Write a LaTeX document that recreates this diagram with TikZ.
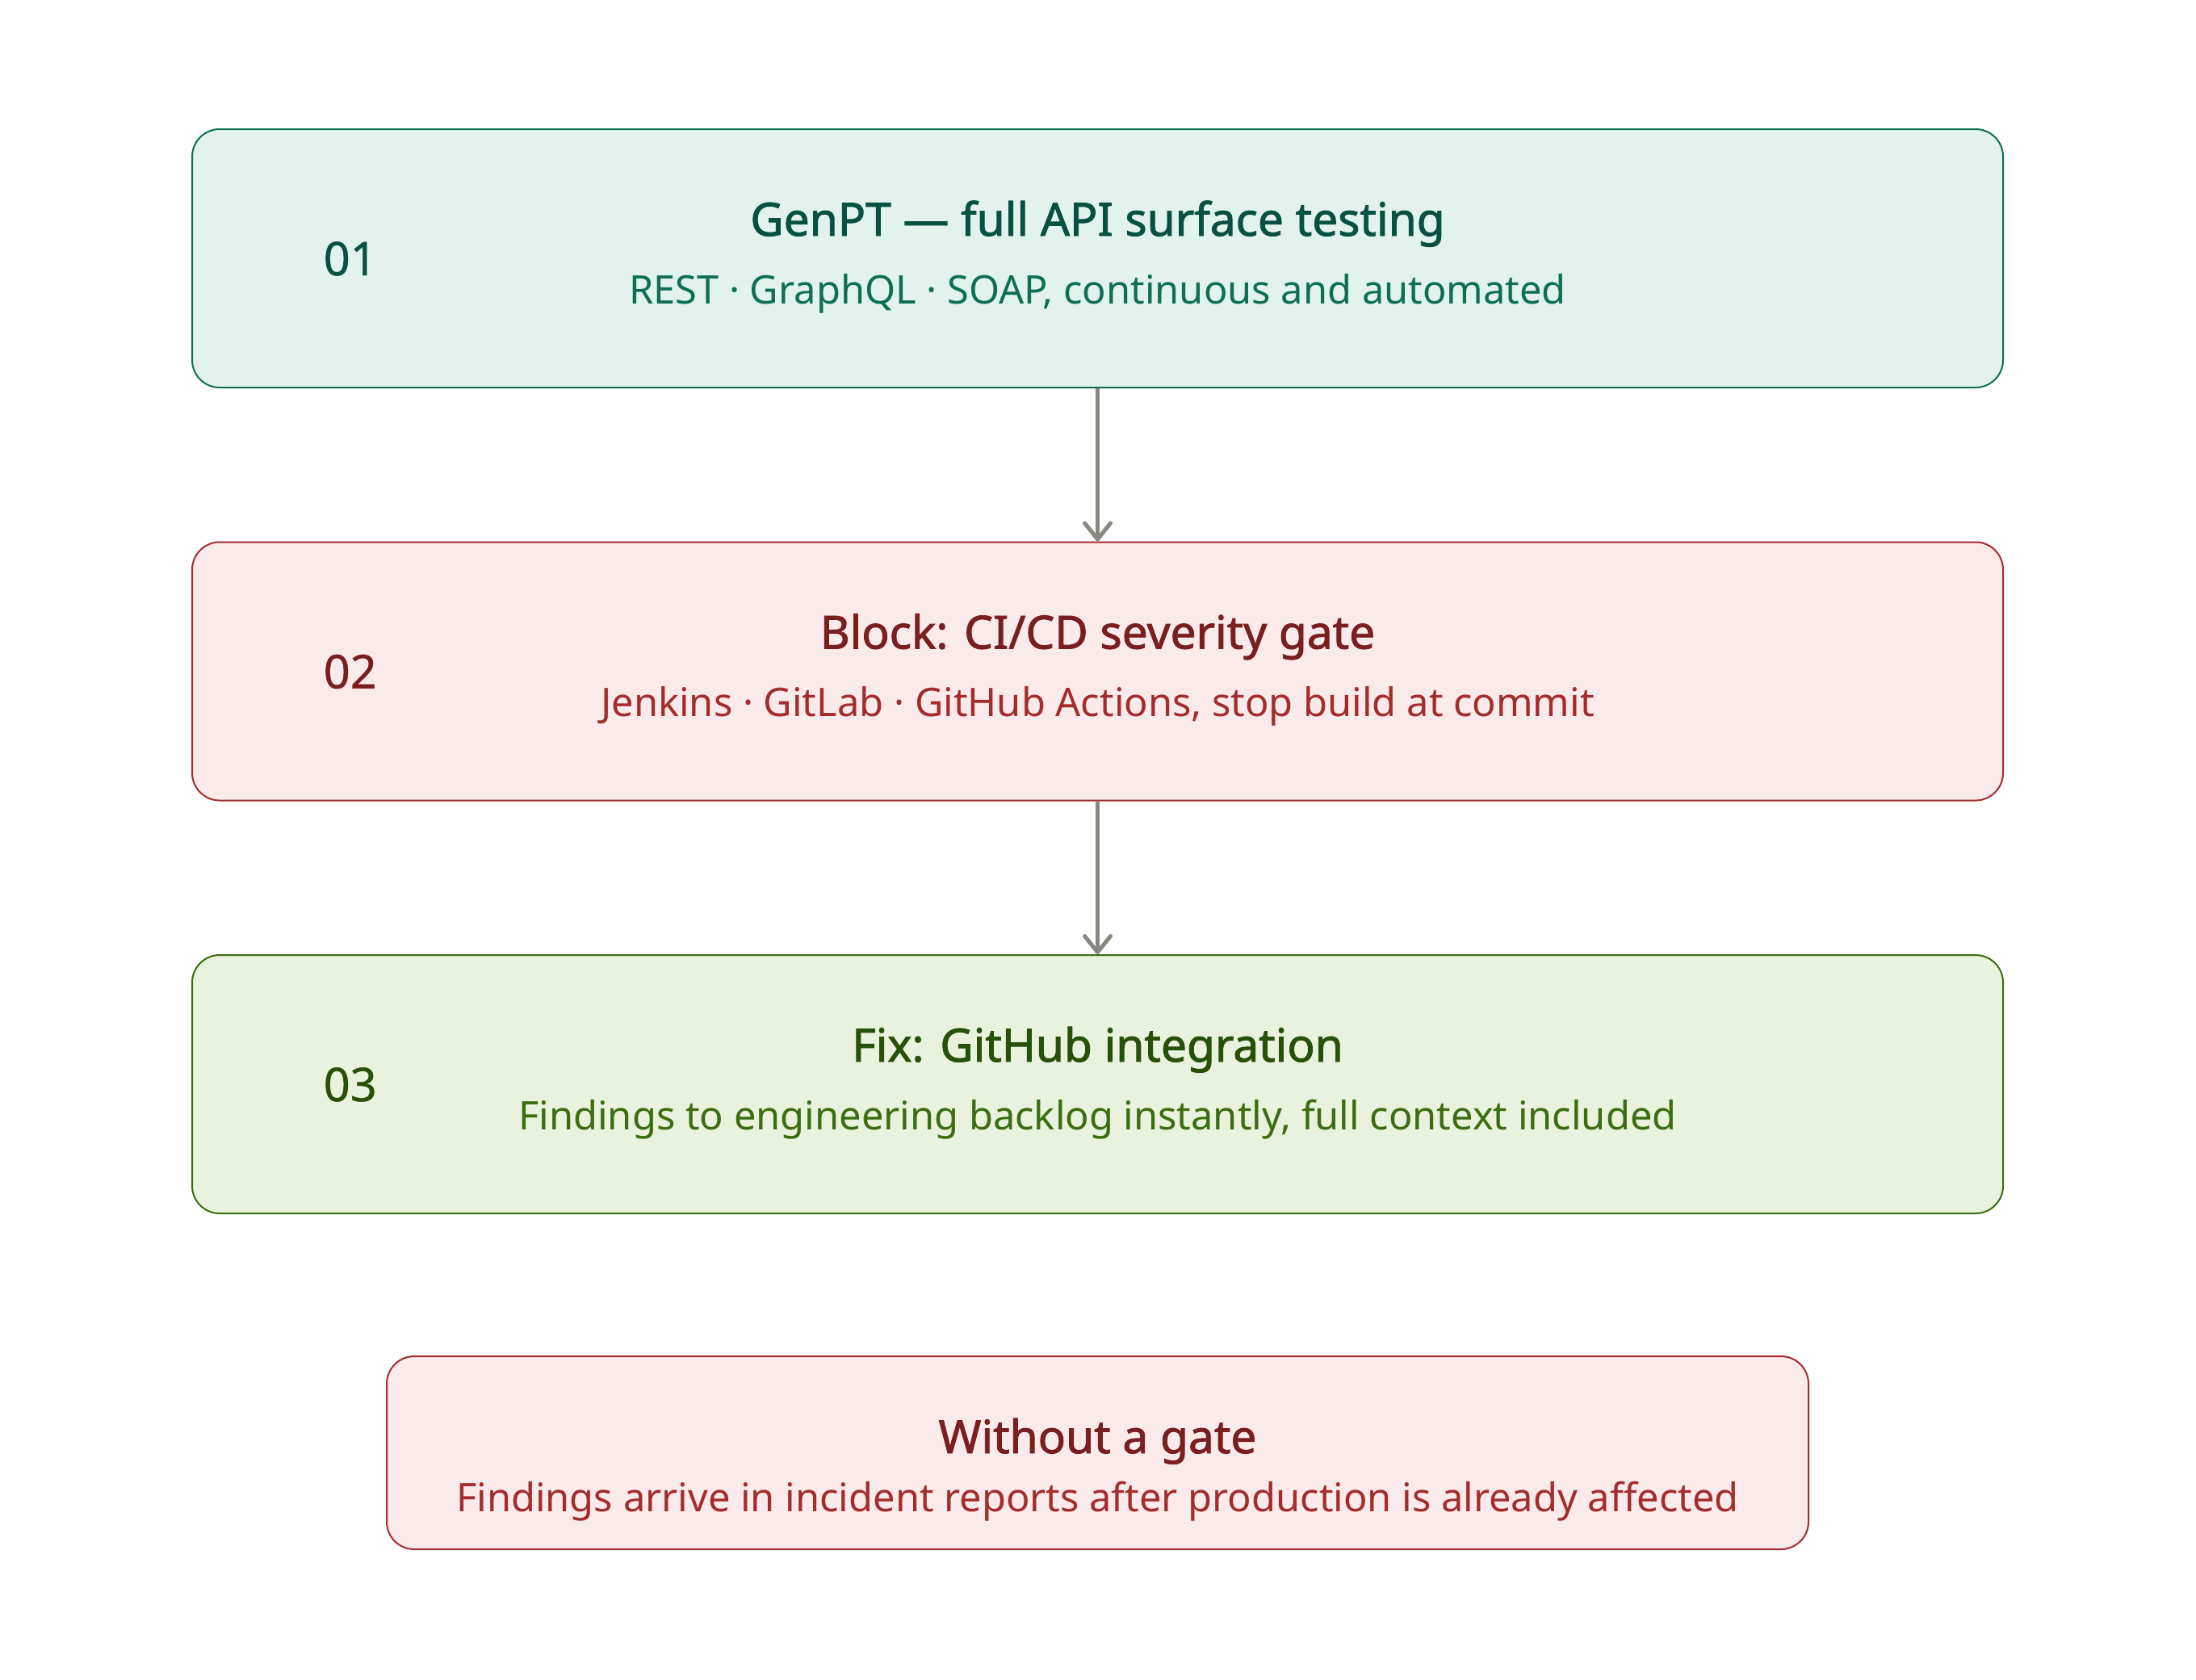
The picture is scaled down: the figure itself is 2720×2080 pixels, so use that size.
\documentclass[tikz,border=0pt]{standalone}
\usepackage{fontspec}
\setmainfont{Noto Sans}
\newfontfamily\semibold{Noto Sans}[FakeBold=1.6]
\newfontfamily\medium{Noto Sans}[FakeBold=0.8]
\usetikzlibrary{arrows.meta,positioning}

\definecolor{tealfill}{HTML}{E1F3EC}
\definecolor{tealline}{HTML}{0F6E56}
\definecolor{tealdark}{HTML}{085041}
\definecolor{redfill}{HTML}{FBEAEA}
\definecolor{redline}{HTML}{A32D2D}
\definecolor{reddark}{HTML}{791F1F}
\definecolor{greenfill}{HTML}{E9F2DD}
\definecolor{greenline}{HTML}{3B6D11}
\definecolor{greendark}{HTML}{27500A}
\definecolor{arrowgray}{HTML}{888780}

\tikzset{
	stagebox/.style={draw=#1line, fill=#1fill, line width=0.5pt, rounded corners=8.5pt,
		minimum width=560.75pt, minimum height=80pt, inner sep=0pt},
	stagetitle/.style={anchor=base, inner sep=0pt, text=#1dark, font=\fontsize{14.2}{17}\semibold},
	stagesub/.style={anchor=base, inner sep=0pt, text=#1line, font=\fontsize{12.2}{14}\selectfont},
	stagenum/.style={anchor=base west, inner sep=0pt, text=#1dark, font=\fontsize{14.4}{17}\medium},
	flow/.style={draw=arrowgray, line width=1.25pt,
		-{Straight Barb[length=5pt, width=8pt, round]}}
}

\begin{document}
\begin{tikzpicture}[x=0.25pt, y=-0.25pt]
	\useasboundingbox (0,0) rectangle (2720,2080);
	
	% Stages
	\node[stagebox=teal] (genpt) at (1359.5, 320) {};
	\node[stagebox=red] (gate) at (1359.5, 831.5) {};
	\node[stagebox=green] (fix) at (1359.5, 1343) {};
	
	\node[stagenum=teal] (genpt-num) at ([xshift=40.75pt, yshift=-45.5pt]genpt.north west) {01};
	\node[stagetitle=teal] (genpt-title) at ([yshift=-33.25pt]genpt.north) {GenPT — full API surface testing};
	\node[stagesub=teal] (genpt-sub) at ([yshift=-54.25pt]genpt.north) {REST · GraphQL · SOAP, continuous and automated};
	
	\node[stagenum=red] (gate-num) at ([xshift=40.75pt, yshift=-45.5pt]gate.north west) {02};
	\node[stagetitle=red] (gate-title) at ([yshift=-33.25pt]gate.north) {Block: CI/CD severity gate};
	\node[stagesub=red] (gate-sub) at ([yshift=-54.25pt]gate.north) {Jenkins · GitLab · GitHub Actions, stop build at commit};
	
	\node[stagenum=green] (fix-num) at ([xshift=40.75pt, yshift=-45.5pt]fix.north west) {03};
	\node[stagetitle=green] (fix-title) at ([yshift=-33.25pt]fix.north) {Fix: GitHub integration};
	\node[stagesub=green] (fix-sub) at ([yshift=-54.25pt]fix.north) {Findings to engineering backlog instantly, full context included};
	
	% Flow
	\draw[flow] (genpt) -- (gate);
	\draw[flow] (gate) -- (fix);
	
	% Without a gate
	\node[stagebox=red, minimum width=440.25pt, minimum height=59.75pt] (nogate) at (1359.5, 1799.5) {};
	\node[stagetitle=red] (nogate-title) at ([yshift=-30.25pt]nogate.north) {Without a gate};
	\node[stagesub=red] (nogate-sub) at ([yshift=-48.25pt]nogate.north) {Findings arrive in incident reports after production is already affected};
\end{tikzpicture}
\end{document}
